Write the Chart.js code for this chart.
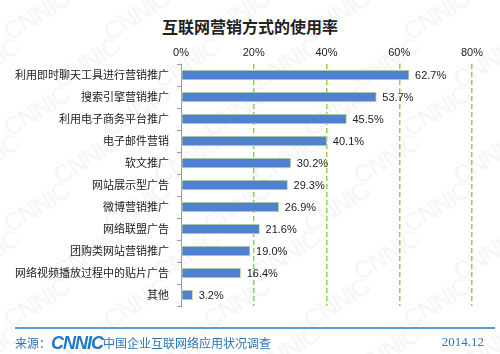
<!DOCTYPE html>
<html>
<head>
<meta charset="utf-8">
<script src="https://cdn.jsdelivr.net/npm/chart.js@4"></script>
<style>
  body { margin: 0; background: #fff; }
  #wrap { position: relative; width: 500px; height: 354px; overflow: hidden; font-family: "Noto Sans CJK SC", sans-serif; }
  #marks { position: absolute; left: 0; top: 0; width: 500px; height: 354px; }
  .wm { position: absolute; font: bold 26px "Liberation Sans", sans-serif; color: rgba(0,0,0,0.04); transform: rotate(-32deg); letter-spacing: -2px; }
  #title { position: absolute; left: 0; width: 500px; top: 14px; text-align: center; font-size: 16px; font-weight: bold; color: #222; }
  canvas { position: absolute; left: 0; top: 0; }
  #rule { position: absolute; left: 15px; top: 327px; width: 480px; height: 2px; background: #5b9bd5; }
  #src { position: absolute; left: 15px; top: 333px; font-size: 12px; color: #2e75b6; white-space: nowrap; }
  #src b { font: italic 900 18px "Liberation Sans", sans-serif; letter-spacing: -1px; color: #1f78c8; vertical-align: -1px; }
  #date { position: absolute; right: 16px; top: 334px; font: 13px "Liberation Serif", serif; color: #2e75b6; }
</style>
</head>
<body>
<div id="wrap">
  <div id="marks"></div>
  <div id="title">互联网营销方式的使用率</div>
  <canvas id="c" width="500" height="354"></canvas>
  <div id="rule"></div>
  <div id="src">来源：<b>CNNIC</b>中国企业互联网络应用状况调查</div>
  <div id="date">2014.12</div>
</div>
<script>
const categories = ['利用即时聊天工具进行营销推广', '搜索引擎营销推广', '利用电子商务平台推广', '电子邮件营销',
    '软文推广', '网站展示型广告', '微博营销推广', '网络联盟广告', '团购类网站营销推广', '网络视频播放过程中的贴片广告', '其他'];
const usage = [62.7, 53.7, 45.5, 40.1, 30.2, 29.3, 26.9, 21.6, 19.0, 16.4, 3.2];
const xTicks = [0, 20, 40, 60, 80];

// watermark tiles
const marks = document.getElementById('marks');
for (let r = -1; r < 8; r++) {
    for (let col = -1; col < 6; col++) {
        const d = document.createElement('div');
        d.className = 'wm';
        d.textContent = 'CNNIC';
        d.style.left = (col * 100 + (r % 2) * 50) + 'px';
        d.style.top = (r * 48) + 'px';
        marks.appendChild(d);
    }
}

const valueLabels = {
    id: 'valueLabels',
    afterDatasetsDraw(chart) {
        const ctx = chart.ctx;
        ctx.save();
        ctx.font = '11px "Liberation Sans", sans-serif';
        ctx.fillStyle = '#222';
        ctx.textBaseline = 'middle';
        chart.getDatasetMeta(0).data.forEach((bar, i) => {
            ctx.fillText(usage[i].toFixed(1) + '%', bar.x + 6, bar.y + 1);
        });
        ctx.restore();
    }
};

new Chart(document.getElementById('c'), {
    type: 'bar',
    data: {
        labels: categories,
        datasets: [{
            data: usage,
            backgroundColor: '#4f81d0',
            borderColor: '#c4e0a4',
            borderWidth: 1,
            borderSkipped: false,
            barThickness: 10
        }]
    },
    options: {
        indexAxis: 'y',
        responsive: false,
        animation: false,
        layout: { padding: { top: 40, right: 28, bottom: 48, left: 0 } },
        plugins: { legend: { display: false }, tooltip: { enabled: false } },
        scales: {
            x: {
                position: 'top',
                min: 0,
                max: 80,
                afterBuildTicks: s => { s.ticks = xTicks.map(v => ({ value: v })); },
                afterFit: s => { s.height = 24; },
                ticks: {
                    callback: v => v + '%',
                    color: '#222',
                    padding: 4,
                    font: { family: 'Liberation Sans', size: 11 }
                },
                grid: {
                    color: c => c.tick && c.tick.value === 0 ? 'rgba(0,0,0,0)' : '#92d050',
                    lineWidth: 1.5,
                    drawTicks: false
                },
                border: { display: false, dash: [5, 3] }
            },
            y: {
                afterFit: s => { s.width = 181; },
                ticks: {
                    color: '#222',
                    padding: 8,
                    font: { family: 'Noto Sans CJK SC', size: 11 }
                },
                grid: {
                    offset: true,
                    drawOnChartArea: false,
                    tickLength: 4,
                    color: '#999'
                },
                border: { color: '#999' }
            }
        }
    },
    plugins: [valueLabels]
});
</script>
</body>
</html>
